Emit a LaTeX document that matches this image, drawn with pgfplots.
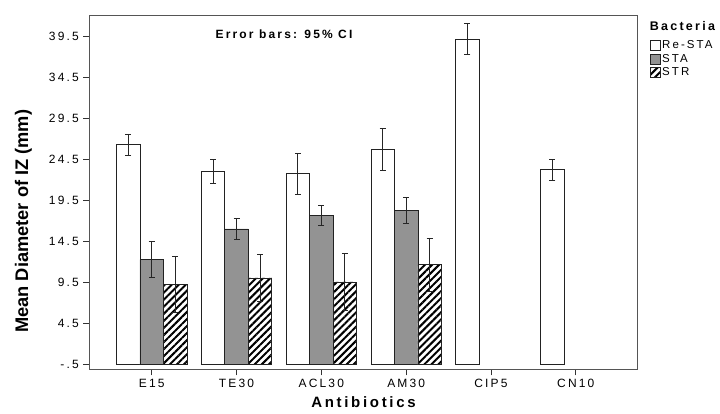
\documentclass[border=0pt]{standalone}
\usepackage{pgfplots}
\pgfplotsset{compat=1.18}
\usepackage{pgfplotstable}
\usepackage{graphicx}
\usepackage{fontspec}
\setmainfont{Liberation Sans}
\newfontfamily\spaced[LetterSpace=18]{Liberation Sans}
\usetikzlibrary{patterns.meta}

\definecolor{barline}{HTML}{222222}
\definecolor{stagray}{HTML}{939393}
\definecolor{frame}{HTML}{555555}

\pgfplotsset{
    sqleg/.style={legend image code/.code={\draw[##1] (0pt,-5pt) rectangle (10pt,5pt);}},
}

% mean diameter (mm) and half width of the 95% CI
\pgfplotstableread{
x y e
0 26.30 1.30
1 23.05 1.50
2 22.76 2.50
3 25.77 2.55
4 39.17 1.90
5 23.25 1.30
}\restatab
\pgfplotstableread{
x y e
0 12.29 2.20
1 16.03 1.30
2 17.65 1.25
3 18.30 1.62
}\statab
\pgfplotstableread{
x y e
0 9.24 3.40
1 10.06 2.90
2 9.57 3.45
3 11.68 3.25
}\strtab

\begin{document}
\begin{tikzpicture}
\begin{axis}[
    name=ax,
    width=548.4pt, height=354.5pt, scale only axis,
    xmin=-0.736, xmax=5.73,
    ymin=-0.6, ymax=42.6,
    ybar=0pt, bar width=0.277,
    xtick={0,...,5},
    xticklabels={E15,TE30,ACL30,AM30,CIP5,CN10},
    ytick={0,5,...,40},
    yticklabels={-.5,4.5,9.5,14.5,19.5,24.5,29.5,34.5,39.5},
    tick pos=left, tick align=outside,
    major tick length=6pt,
    tick style={line width=0.8pt, black!80},
    yticklabel style={xshift=-1pt},
    ticklabel style={font=\spaced\fontsize{12}{14}\selectfont},
    axis line style={frame, line width=0.8pt},
    xlabel={\spaced\bfseries\fontsize{15}{17}\selectfont Antibiotics},
    xlabel style={at={(rel axis cs:0.5,0)}, anchor=center, yshift=-33pt},
    ylabel={\resizebox{223pt}{!}{\bfseries\fontsize{18}{20}\selectfont Mean Diameter of IZ (mm)}},
    % label is rotated, so xshift runs along the axis and yshift across it
    ylabel style={at={(rel axis cs:0,0.5)}, anchor=center, xshift=-29pt, yshift=66pt},
    error bars/error bar style={line width=0.8pt, black!85},
    error bars/error mark options={rotate=90, mark size=3pt, line width=0.8pt, black!85},
    legend style={at={(rel axis cs:1,1)}, anchor=north west,
        xshift=12pt, yshift=-24pt, draw=none, fill=none, inner sep=0pt,
        row sep=1pt, font=\spaced\fontsize{11.5}{12}\selectfont,
        cells={anchor=west}, nodes={inner sep=1.5pt}},
]
\addplot[draw=barline, line width=0.8pt, fill=white, bar shift=-0.277, sqleg,
    error bars/.cd, y dir=both, y explicit]
    table[x=x, y expr=\thisrow{y}+0.5, y error=e]{\restatab};
\addlegendentry{Re-STA}
\addplot[draw=barline, line width=0.8pt, fill=stagray, bar shift=0, sqleg,
    error bars/.cd, y dir=both, y explicit]
    table[x=x, y expr=\thisrow{y}+0.5, y error=e]{\statab};
\addlegendentry{STA}
\addplot[draw=barline, line width=0.8pt, fill=white, bar shift=0.277, sqleg,
    postaction={pattern={Lines[angle=45, distance=5pt, line width=2pt]}, pattern color=black},
    error bars/.cd, y dir=both, y explicit]
    table[x=x, y expr=\thisrow{y}+0.5, y error=e]{\strtab};
\addlegendentry{STR}
\node[font=\spaced\bfseries\fontsize{12}{14}\selectfont] at (axis cs:1.56,40.3) {Error bars: 95\% CI};
\end{axis}
\node[anchor=west, inner sep=0pt, font=\spaced\bfseries\fontsize{12.5}{14}\selectfont]
    at ([xshift=12pt, yshift=-11.3pt]ax.north east) {Bacteria};
\pgfresetboundingbox
\path ([xshift=-89.3pt, yshift=-44.5pt]ax.south west) rectangle ([xshift=82.3pt, yshift=15pt]ax.north east);
\end{tikzpicture}
\end{document}
